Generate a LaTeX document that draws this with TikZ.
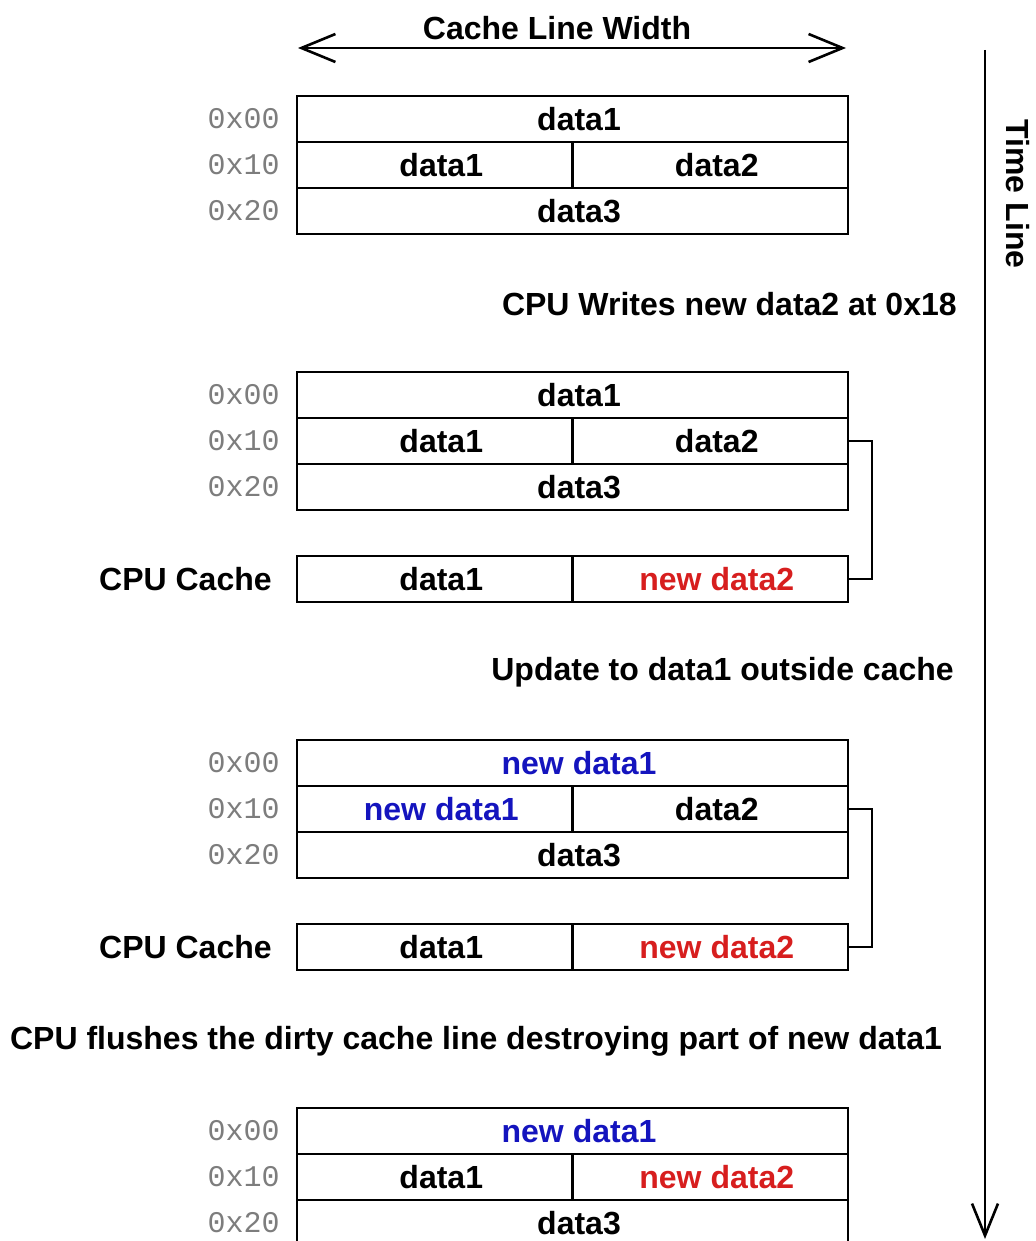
\documentclass[tikz,border=0pt]{standalone}
\usepackage{fontspec}
\setmainfont{Liberation Sans}
\setmonofont{Liberation Mono}
\usetikzlibrary{arrows.meta,positioning}
\definecolor{addrgray}{RGB}{125,125,125}
\definecolor{newblue}{RGB}{20,20,190}
\definecolor{newred}{RGB}{215,30,30}
\begin{document}
\begin{tikzpicture}[x=0.5pt,y=-0.5pt,
  line width=1.3pt,
  cell/.style={draw, rectangle, inner sep=0pt, outer sep=0pt, minimum height=23pt,
    anchor=north west, font=\fontsize{16}{18}\selectfont\bfseries,
    execute at begin node={\hspace*{6.5pt}}},
  full/.style={cell, minimum width=275.5pt},
  half/.style={cell, minimum width=137.75pt},
  addr/.style={font=\fontsize{15}{17}\selectfont\ttfamily, text=addrgray, inner sep=0pt, anchor=east},
  lbl/.style={font=\fontsize{16}{18}\selectfont\bfseries, inner sep=0pt},
  nb/.style={text=newblue},
  nr/.style={text=newred},
  bracket/.style={draw, line width=1.3pt},
  barb/.style={line width=1.3pt}
]
\useasboundingbox (0,0) rectangle (1036,1241);
\clip (0,0) rectangle (1036,1241);

% cache line width indicator
\node[lbl] (clw) at (557,28) {Cache Line Width};
\coordinate (clwL) at (298,48);
\coordinate (clwR) at (846,48);
\draw[barb, {Straight Barb[length=17pt,width=14pt]}-{Straight Barb[length=17pt,width=14pt]}] (clwL) -- (clwR);

% time line
\coordinate (tlTop) at (985,50);
\coordinate (tlBot) at (985,1239);
\draw[barb, -{Straight Barb[length=16pt,width=13pt]}] (tlTop) -- (tlBot);
\node[lbl, rotate=-90] (tl) at (1018,194) {Time Line};

% ---- stage 1: initial memory ----
\node[full] (a0) at (297,96) {data1};
\node[half] (a1l) at (297,142) {data1};
\node[half] (a1r) at (572.5,142) {data2};
\node[full] (a2) at (297,188) {data3};
\node[addr, left=8pt of a0.west] (aa0) {0x00};
\node[addr, left=8pt of a1l.west] (aa1) {0x10};
\node[addr, left=8pt of a2.west] (aa2) {0x20};

\node[lbl, anchor=east] (s1) at (958,304) {CPU Writes new data2 at 0x18};

% ---- stage 2: CPU writes to its cache ----
\node[full] (b0) at (297,372) {data1};
\node[half] (b1l) at (297,418) {data1};
\node[half] (b1r) at (572.5,418) {data2};
\node[full] (b2) at (297,464) {data3};
\node[addr, left=8pt of b0.west] (ba0) {0x00};
\node[addr, left=8pt of b1l.west] (ba1) {0x10};
\node[addr, left=8pt of b2.west] (ba2) {0x20};
\node[half] (bcl) at (297,556) {data1};
\node[half, nr] (bcr) at (572.5,556) {new data2};
\node[lbl, left=12pt of bcl.west, anchor=east] (bcache) {CPU Cache};
\draw[bracket] (b1r.east) -- ++(24,0) |- (bcr.east);

\node[lbl, anchor=east] (s2) at (955,672) {Update to data1 outside cache};

% ---- stage 3: memory updated behind the cache ----
\node[full, nb] (c0) at (297,740) {new data1};
\node[half, nb] (c1l) at (297,786) {new data1};
\node[half] (c1r) at (572.5,786) {data2};
\node[full] (c2) at (297,832) {data3};
\node[addr, left=8pt of c0.west] (ca0) {0x00};
\node[addr, left=8pt of c1l.west] (ca1) {0x10};
\node[addr, left=8pt of c2.west] (ca2) {0x20};
\node[half] (ccl) at (297,924) {data1};
\node[half, nr] (ccr) at (572.5,924) {new data2};
\node[lbl, left=12pt of ccl.west, anchor=east] (ccache) {CPU Cache};
\draw[bracket] (c1r.east) -- ++(24,0) |- (ccr.east);

\node[lbl] (s3) at (476,1041) {CPU flushes the dirty cache line destroying part of new data1};

% ---- stage 4: after the flush ----
\node[full, nb] (d0) at (297,1108) {new data1};
\node[half] (d1l) at (297,1154) {data1};
\node[half, nr] (d1r) at (572.5,1154) {new data2};
\node[full] (d2) at (297,1200) {data3};
\node[addr, left=8pt of d0.west] (da0) {0x00};
\node[addr, left=8pt of d1l.west] (da1) {0x10};
\node[addr, left=8pt of d2.west] (da2) {0x20};
\end{tikzpicture}
\end{document}
